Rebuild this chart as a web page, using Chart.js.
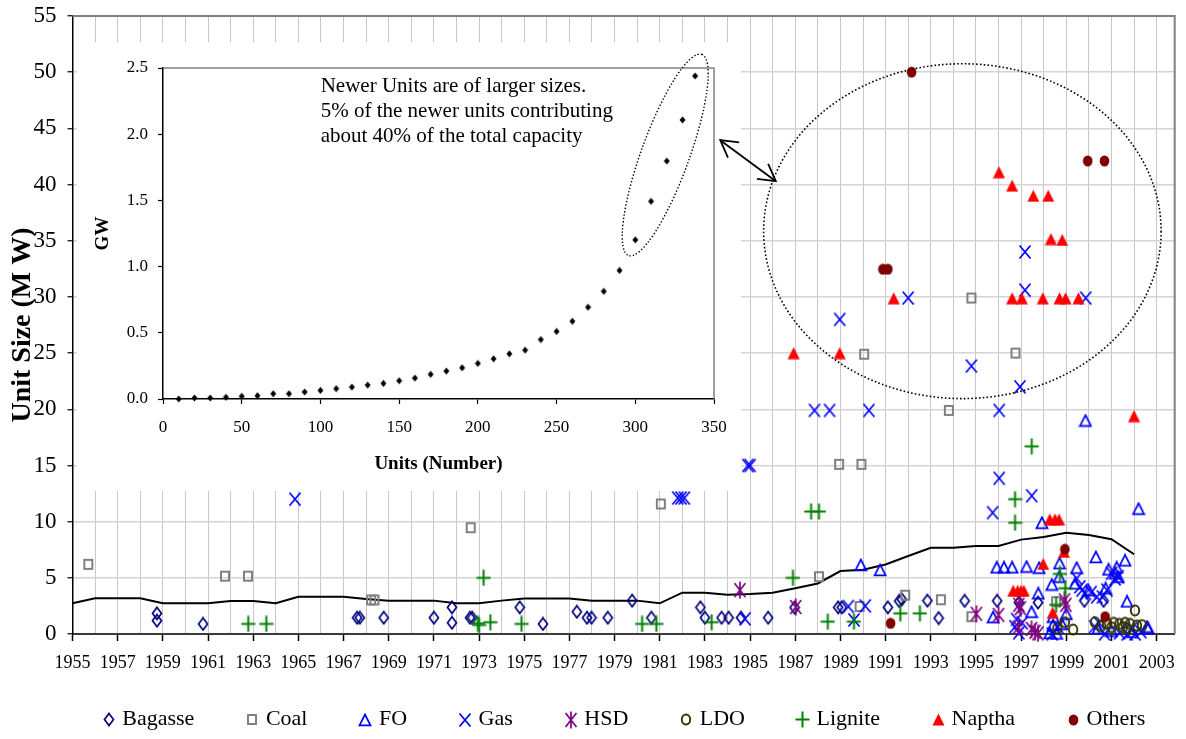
<!DOCTYPE html>
<html>
<head>
<meta charset="utf-8">
<script src="https://cdn.jsdelivr.net/npm/chart.js@4.4.1/dist/chart.umd.min.js"></script>
<style>
  html, body { margin: 0; padding: 0; background: #fff; }
  #wrap { position: relative; width: 1186px; height: 739px; }
  #main { position: absolute; left: 0; top: 0; }
  #inset { position: absolute; left: 77px; top: 42px; }
</style>
</head>
<body>
<div id="wrap">
  <canvas id="main" width="1186" height="739"></canvas>
  <canvas id="inset" width="664" height="449"></canvas>
</div>
<script>
// ---- Unit sizes by commissioning year (MW) ----
const bagasseYear = [1958.74,1958.74,1960.78,1967.6,1967.72,1968.78,1971.0,1971.8,1971.8,1972.6,1972.7,1974.8,1975.83,1977.33,1977.78,1977.98,1978.7,1979.78,1980.63,1982.8,1983.0,1983.74,1984.05,1984.6,1985.8,1986.97,1988.9,1989.06,1991.1,1991.6,1991.72,1992.85,1993.35,1994.5,1995.94,1996.9,1997.75,1999.8,2000.65];
const bagasseMW   = [1.84,1.19,0.89,1.45,1.45,1.45,1.45,2.37,1.0,1.45,1.45,2.37,0.89,1.98,1.45,1.45,1.45,2.97,1.45,2.37,1.45,1.45,1.45,1.45,1.45,2.35,2.37,2.37,2.37,2.94,3.08,2.97,1.42,2.95,2.95,2.8,2.8,2.95,2.95];

const coalYear = [1955.7,1961.75,1962.77,1968.22,1968.37,1972.63,1981.05,1988.05,1988.94,1989.93,1989.85,1990.05,1991.87,1993.45,1993.8,1994.8,1994.8,1996.75,1998.55];
const coalMW   = [6.2,5.15,5.15,3.03,3.03,9.46,11.57,5.1,15.1,15.1,2.45,24.9,3.45,3.05,19.9,29.9,1.54,25.0,2.88];

const foYear = [1989.9,1990.76,1995.76,1995.92,1996.24,1996.6,1997.24,1997.46,1997.76,1997.8,1997.92,1998.36,1998.42,1998.42,1998.69,1998.7,1998.8,1999.0,1999.39,1999.46,1999.85,1999.98,2000.31,2000.74,2000.87,2001.17,2001.23,2001.3,2001.6,2001.69,2002.2,2002.57,2002.63,2001.0,2000.4,2001.9,1998.27,1998.57];
const foMW   = [6.14,5.7,1.5,5.93,5.93,5.93,6.0,1.98,3.62,5.9,9.9,4.4,1.54,0.8,5.1,6.3,0.9,1.8,4.5,5.9,19.0,3.9,6.85,4.07,5.75,5.4,5.93,5.1,6.55,2.9,11.15,0.65,0.5,0.3,0.5,0.2,0.1,0.05];

const gasYear = [1964.85,1981.8,1981.94,1982.09,1984.78,1984.9,1985.0,1987.85,1988.52,1988.97,1989.35,1989.6,1990.1,1990.26,1992.0,1994.8,1995.74,1996.03,1996.03,1996.95,1997.17,1997.17,1997.47,1999.86,1996.73,1996.9,1996.8,1997.05,1998.38,1998.62,1999.46,1999.6,1999.7,1999.85,2000.1,2000.35,2000.6,2000.8,2001.0,2001.16,2001.3,2000.25,2000.7,2001.36,2001.7,2002.05,2002.3,2000.45,2001.9];
const gasMW   = [12.0,12.1,12.1,12.1,1.35,15.0,15.0,19.9,19.9,28.0,2.45,1.25,2.5,19.9,29.9,23.85,10.8,13.86,19.9,22.0,30.6,34.0,12.3,29.9,0.65,0.1,1.3,1.0,0.0,0.65,4.95,4.2,3.9,3.6,3.7,3.3,3.3,3.9,5.4,4.9,5.1,0.65,0.0,0.1,0.0,0.0,0.2,1.0,0.5];

const hsdYear = [1984.55,1987.02,1995.02,1996.0,1996.9,1996.97,1996.88,1997.46,1997.62,1997.75,1998.92,1998.98];
const hsdMW   = [3.9,2.4,1.8,1.7,2.6,2.3,0.6,0.45,0.2,0.06,3.0,2.6];

const ldoYear = [1998.6,1998.94,1999.3,2000.27,2000.55,2000.8,2001.0,2001.1,2001.35,2001.5,2001.6,2001.82,2002.04,2002.13,2002.35,2001.7];
const ldoMW   = [0.5,1.05,0.4,1.05,0.7,0.95,0.6,1.0,0.9,0.6,1.0,0.9,2.1,0.75,0.8,0.5];

const ligniteYear = [1962.78,1963.58,1972.95,1973.0,1973.2,1973.5,1974.88,1980.22,1980.85,1983.3,1986.9,1987.7,1988.05,1988.44,1989.6,1991.65,1992.52,1996.73,1996.73,1997.47,1998.72,1998.95,1998.55];
const ligniteMW   = [0.9,0.9,0.95,0.8,5.0,1.05,0.9,0.9,0.9,1.05,5.0,10.9,10.9,1.1,1.1,1.84,1.84,12.0,9.9,16.7,5.35,4.07,2.6];

const napthaYear = [1986.93,1988.97,1991.36,1996.02,1996.6,1997.54,1998.2,1998.32,1998.82,1996.6,1997.03,1997.96,1998.7,1998.97,1999.54,2002.0,1998.27,1998.5,1998.68,1997.98,1998.9,1996.65,1996.85,1997.0,1997.12,1998.4];
const napthaMW   = [25.0,25.0,29.88,41.1,39.9,39.0,39.0,35.15,35.07,29.88,29.88,29.88,29.88,29.88,29.88,19.4,10.2,10.2,10.2,6.23,7.3,3.85,3.85,3.85,3.85,1.9];

const othersYear = [1992.15,1999.95,2000.69,1990.88,1991.1,1998.94,1991.22,2000.72];
const othersMW   = [50.0,42.1,42.1,32.46,32.46,7.54,0.95,1.54];

// Average unit size per year
const avgYear = [1955,1956,1957,1958,1959,1960,1961,1962,1963,1964,1965,1966,1967,1968,1969,1970,1971,1972,1973,1974,1975,1976,1977,1978,1979,1980,1981,1982,1983,1984,1985,1986,1987,1988,1989,1990,1991,1992,1993,1994,1995,1996,1997,1998,1999,2000,2001,2002];
const avgMW   = [2.73,3.18,3.18,3.18,2.73,2.73,2.73,2.94,2.94,2.73,3.32,3.32,3.32,3.12,2.97,2.97,2.97,2.73,2.73,2.97,3.15,3.15,3.15,2.97,2.97,2.97,2.73,3.68,3.68,3.5,3.55,3.68,4.07,4.5,5.6,5.72,6.18,6.94,7.68,7.68,7.83,7.83,8.4,8.63,9.0,8.81,8.43,7.1];

// ---- Cumulative capacity vs number of units ----
const insetUnits = [10,20,30,40,50,60,70,80,90,100,110,120,130,140,150,160,170,180,190,200,210,220,230,240,250,260,270,280,290,300,310,320,330,338];
const insetGW    = [0.0,0.008,0.008,0.013,0.02,0.025,0.04,0.04,0.053,0.065,0.078,0.09,0.105,0.118,0.138,0.158,0.186,0.211,0.236,0.269,0.304,0.341,0.369,0.449,0.51,0.587,0.693,0.813,0.971,1.202,1.493,1.797,2.108,2.44];

const seriesNames = ['Bagasse','Coal','FO','Gas','HSD','LDO','Lignite','Naptha','Others'];
const noteLines = ['Newer Units are of larger sizes.', '5% of the newer units contributing', 'about 40% of the total capacity'];

const FONT = "'Liberation Serif', 'Times New Roman', serif";
Chart.defaults.font.family = FONT;
Chart.defaults.color = '#000';

// ---- marker glyphs ----
function glyph(w, h, paint) {
  const c = document.createElement('canvas');
  c.width = w; c.height = h;
  const g = c.getContext('2d');
  g.lineJoin = 'miter';
  paint(g);
  return c;
}
const mkBagasse = glyph(12, 15, g => {
  g.strokeStyle = '#000080'; g.lineWidth = 1.7;
  g.beginPath(); g.moveTo(6, 1.5); g.lineTo(10.5, 7.5); g.lineTo(6, 13.5); g.lineTo(1.5, 7.5); g.closePath(); g.stroke();
});
const mkCoal = glyph(12, 13, g => {
  g.strokeStyle = '#808080'; g.lineWidth = 2;
  g.strokeRect(2, 2, 8, 9);
});
const mkFO = glyph(14, 14, g => {
  g.strokeStyle = '#0000ff'; g.lineWidth = 1.7;
  g.beginPath(); g.moveTo(7, 1.5); g.lineTo(12.5, 12.3); g.lineTo(1.5, 12.3); g.closePath(); g.stroke();
});
const mkGas = glyph(14, 16, g => {
  g.strokeStyle = '#0000ff'; g.lineWidth = 1.7;
  g.beginPath(); g.moveTo(1.5, 1.5); g.lineTo(12.5, 14.5); g.moveTo(12.5, 1.5); g.lineTo(1.5, 14.5); g.stroke();
});
const mkHSD = glyph(14, 18, g => {
  g.strokeStyle = '#800080'; g.lineWidth = 1.7;
  g.beginPath(); g.moveTo(1.5, 2); g.lineTo(12.5, 16); g.moveTo(12.5, 2); g.lineTo(1.5, 16);
  g.moveTo(7, 0.5); g.lineTo(7, 17.5); g.stroke();
});
const mkLDO = glyph(12, 13, g => {
  g.strokeStyle = '#333300'; g.lineWidth = 1.9;
  g.beginPath(); g.ellipse(6, 6.5, 4.2, 5, 0, 0, Math.PI * 2); g.stroke();
});
const mkLignite = glyph(15, 17, g => {
  g.strokeStyle = '#008000'; g.lineWidth = 2;
  g.beginPath(); g.moveTo(7.5, 0.5); g.lineTo(7.5, 16.5); g.moveTo(0.5, 8.5); g.lineTo(14.5, 8.5); g.stroke();
});
const mkNaptha = glyph(13, 13, g => {
  g.fillStyle = '#ff0000';
  g.beginPath(); g.moveTo(6.5, 0.5); g.lineTo(12.5, 12.5); g.lineTo(0.5, 12.5); g.closePath(); g.fill();
});
const mkOthers = glyph(11, 12, g => {
  g.fillStyle = '#800000';
  g.beginPath(); g.ellipse(5.5, 6, 4.8, 5.6, 0, 0, Math.PI * 2); g.fill();
});
const mkInset = glyph(7, 8, g => {
  g.fillStyle = '#000';
  g.beginPath(); g.moveTo(3.5, 0.5); g.lineTo(6.5, 4); g.lineTo(3.5, 7.5); g.lineTo(0.5, 4); g.closePath(); g.fill();
});

function pts(xs, ys) { return xs.map((x, i) => ({ x, y: ys[i] })); }
function series(idx, xs, ys, glyphImg) {
  return {
    label: seriesNames[idx], data: pts(xs, ys), pointStyle: glyphImg,
    pointRadius: 6, pointHoverRadius: 6, showLine: false, clip: false,
    order: 20 - idx
  };
}

// ---- decorations on the main plot ----
const mainDecor = {
  id: 'mainDecor',
  beforeDatasetsDraw(chart) {
    const { ctx, chartArea: a } = chart;
    ctx.save();
    // plot frame (top and right)
    ctx.strokeStyle = '#808080'; ctx.lineWidth = 2;
    ctx.beginPath(); ctx.moveTo(a.left, a.top); ctx.lineTo(a.right, a.top); ctx.lineTo(a.right, a.bottom); ctx.stroke();
    // white panel behind the embedded chart
    ctx.fillStyle = '#ffffff';
    ctx.fillRect(77, 42, 664, 449);
    ctx.restore();
  },
  afterDatasetsDraw(chart) {
    const { ctx } = chart;
    const xs = chart.scales.x, ys = chart.scales.y;
    ctx.save();
    // dotted ellipse around the large units
    const cx = xs.getPixelForValue(1994.4), cy = ys.getPixelForValue(35.85);
    const rx = xs.getPixelForValue(1994.4 + 8.8) - cx;
    const ry = cy - ys.getPixelForValue(35.85 + 14.9);
    ctx.strokeStyle = '#000'; ctx.lineWidth = 1.6; ctx.setLineDash([1.6, 2.2]);
    ctx.beginPath(); ctx.ellipse(cx, cy, rx, ry, 0, 0, Math.PI * 2); ctx.stroke();
    // double-headed arrow linking both views
    ctx.setLineDash([]); ctx.lineWidth = 1.8;
    const p1 = [xs.getPixelForValue(1983.68), ys.getPixelForValue(43.95)];
    const p2 = [xs.getPixelForValue(1986.14), ys.getPixelForValue(40.3)];
    ctx.beginPath(); ctx.moveTo(p1[0], p1[1]); ctx.lineTo(p2[0], p2[1]); ctx.stroke();
    const ang = Math.atan2(p2[1] - p1[1], p2[0] - p1[0]);
    const head = (p, dir) => {
      ctx.beginPath();
      ctx.moveTo(p[0] + 19 * Math.cos(dir - 0.52), p[1] + 19 * Math.sin(dir - 0.52));
      ctx.lineTo(p[0], p[1]);
      ctx.lineTo(p[0] + 19 * Math.cos(dir + 0.52), p[1] + 19 * Math.sin(dir + 0.52));
      ctx.stroke();
    };
    head(p1, ang); head(p2, ang + Math.PI);
    ctx.restore();
  },
  // legend row: glyph + name for every fuel series, centred under the plot
  afterDraw(chart) {
    const { ctx } = chart;
    const items = chart.data.datasets.filter(d => seriesNames.includes(d.label));
    const glyphToText = 13.5, textToNext = 58, rowCenter = 627, rowY = 719.5;
    ctx.save();
    ctx.font = '22px ' + FONT;
    ctx.fillStyle = '#000';
    ctx.textBaseline = 'middle'; ctx.textAlign = 'left';
    const widths = items.map(d => ctx.measureText(d.label).width);
    const span = widths.reduce((s, w) => s + glyphToText + w, 0) + textToNext * (items.length - 1);
    let m = rowCenter - span / 2;
    items.forEach((d, i) => {
      const img = d.pointStyle;
      ctx.drawImage(img, Math.round(m - img.width / 2), Math.round(rowY - img.height / 2));
      ctx.fillText(d.label, m + glyphToText, rowY);
      m += glyphToText + widths[i] + textToNext;
    });
    ctx.restore();
  }
};

const datasets = [
  series(0, bagasseYear, bagasseMW, mkBagasse),
  series(1, coalYear, coalMW, mkCoal),
  series(2, foYear, foMW, mkFO),
  series(3, gasYear, gasMW, mkGas),
  series(4, hsdYear, hsdMW, mkHSD),
  series(5, ldoYear, ldoMW, mkLDO),
  series(6, ligniteYear, ligniteMW, mkLignite),
  series(7, napthaYear, napthaMW, mkNaptha),
  series(8, othersYear, othersMW, mkOthers),
  {
    label: 'Average', data: pts(avgYear, avgMW), showLine: true, pointRadius: 0,
    borderColor: '#000', borderWidth: 2, tension: 0, order: 30
  }
];

new Chart(document.getElementById('main'), {
  type: 'scatter',
  data: { datasets },
  plugins: [mainDecor],
  options: {
    responsive: false, animation: false, devicePixelRatio: 1,
    layout: { padding: { left: 0, right: 11.3, top: 16, bottom: 0 } },
    plugins: { tooltip: { enabled: false }, legend: { display: false } },
    scales: {
      x: {
        type: 'linear', min: 1955, max: 2003.8,
        ticks: {
          stepSize: 1, autoSkip: false, maxRotation: 0, includeBounds: false,
          font: { size: 18 }, color: '#000', padding: 11,
          callback: v => (Number.isInteger(v) && v % 2 === 1) ? String(v) : ''
        },
        grid: {
          color: '#c8c8c8', lineWidth: 1, tickLength: 7, tickWidth: 1.5,
          tickColor: c => (c.tick && c.tick.value % 2 === 1) ? '#000' : 'rgba(0,0,0,0)'
        },
        border: { color: '#3a3a3a', width: 2 },
        afterFit: s => { s.height = 105; s.paddingLeft = 0; s.paddingRight = 0; }
      },
      y: {
        min: 0, max: 55,
        ticks: { stepSize: 5, font: { size: 23 }, color: '#000', padding: 11 },
        grid: { color: '#d4d4d4', lineWidth: 1.5, tickLength: 5, tickColor: '#000', tickWidth: 1.2 },
        border: { color: '#000', width: 1.5 },
        title: {
          display: true, text: 'Unit Size (M W)', color: '#000',
          font: { size: 28, weight: 'bold' }, padding: { top: 6.2, bottom: 0 }
        },
        afterFit: s => { s.width = 72.5; s.paddingTop = 0; s.paddingBottom = 0; }
      }
    }
  }
});

// ---- embedded cumulative chart ----
const insetDecor = {
  id: 'insetDecor',
  beforeDatasetsDraw(chart) {
    const { ctx, chartArea: a } = chart;
    ctx.save();
    ctx.strokeStyle = '#808080'; ctx.lineWidth = 1.5;
    ctx.beginPath(); ctx.moveTo(a.left, a.top); ctx.lineTo(a.right, a.top); ctx.lineTo(a.right, a.bottom); ctx.stroke();
    ctx.restore();
  },
  afterDatasetsDraw(chart) {
    const { ctx } = chart;
    const xs = chart.scales.x, ys = chart.scales.y;
    ctx.save();
    // dotted ellipse around the newest units
    const cx = xs.getPixelForValue(319), cy = ys.getPixelForValue(1.843);
    ctx.strokeStyle = '#000'; ctx.lineWidth = 1.4; ctx.setLineDash([1.4, 2]);
    ctx.beginPath(); ctx.ellipse(cx, cy, 107, 24, -70 * Math.PI / 180, 0, Math.PI * 2); ctx.stroke();
    ctx.setLineDash([]);
    // note
    ctx.fillStyle = '#000';
    ctx.font = '21px ' + FONT;
    ctx.textBaseline = 'middle'; ctx.textAlign = 'left';
    noteLines.forEach((t, i) => ctx.fillText(t, 243.7, 44.7 + i * 25));
    ctx.restore();
  }
};

new Chart(document.getElementById('inset'), {
  type: 'scatter',
  data: {
    datasets: [{
      label: 'Cumulative capacity', data: pts(insetUnits, insetGW),
      pointStyle: mkInset, pointRadius: 3, pointHoverRadius: 3, clip: false
    }]
  },
  plugins: [insetDecor],
  options: {
    responsive: false, animation: false, devicePixelRatio: 1,
    layout: { padding: { left: 0, right: 27, top: 26, bottom: 0 } },
    plugins: { legend: { display: false }, tooltip: { enabled: false } },
    scales: {
      x: {
        type: 'linear', min: 0, max: 350,
        ticks: { stepSize: 50, autoSkip: false, maxRotation: 0, font: { size: 17 }, color: '#000', padding: 13 },
        grid: { drawOnChartArea: false, tickLength: 5, tickColor: '#000', tickWidth: 1.2 },
        border: { color: '#000', width: 1.5 },
        title: {
          display: true, text: 'Units (Number)', color: '#000',
          font: { size: 19, weight: 'bold' }, padding: { top: 0, bottom: 15.6 }
        },
        afterFit: s => { s.height = 92; }
      },
      y: {
        min: 0, max: 2.5,
        ticks: { stepSize: 0.5, font: { size: 17 }, color: '#000', padding: 10, callback: v => v.toFixed(1) },
        grid: { drawOnChartArea: false, tickLength: 5, tickColor: '#000', tickWidth: 1.2 },
        border: { color: '#000', width: 1.5 },
        title: {
          display: true, text: 'GW', color: '#000',
          font: { size: 19, weight: 'bold' }, padding: { top: 14.6, bottom: 0 }
        },
        afterFit: s => { s.width = 86; }
      }
    }
  }
});
</script>
</body>
</html>
